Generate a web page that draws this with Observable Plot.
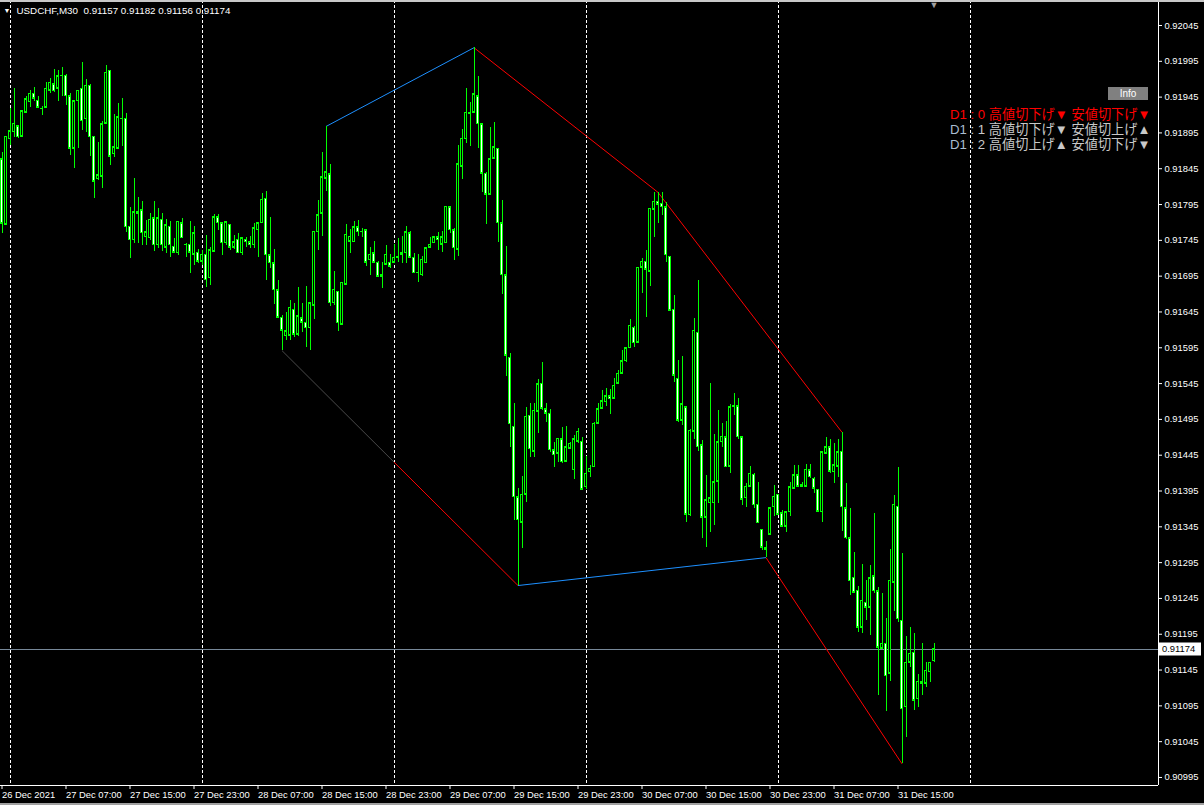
<!DOCTYPE html>
<html><head><meta charset="utf-8">
<script src="https://cdn.jsdelivr.net/npm/d3@7"></script>
<script src="https://cdn.jsdelivr.net/npm/@observablehq/plot@0.6"></script>
<style>
html,body{margin:0;padding:0;background:#000;overflow:hidden}
#chart{position:relative;width:1204px;height:805px}
svg{display:block}
</style></head><body><div id="chart"></div>
<script>
const symbol = "USDCHF,M30";
const open = [0.91858,0.91767,0.91886,0.91896,0.91904,0.91890,0.91923,0.91938,0.91950,0.91940,0.91928,0.91930,0.91954,0.91963,0.91957,0.91975,0.91975,0.91946,0.91873,0.91939,0.91957,0.91914,0.91961,0.91890,0.91830,0.91834,0.91908,0.91982,0.91865,0.91873,0.91914,0.91915,0.91764,0.91745,0.91782,0.91787,0.91749,0.91748,0.91776,0.91738,0.91774,0.91735,0.91764,0.91736,0.91727,0.91769,0.91739,0.91739,0.91725,0.91728,0.91715,0.91725,0.91692,0.91729,0.91777,0.91769,0.91741,0.91767,0.91735,0.91746,0.91727,0.91746,0.91742,0.91738,0.91759,0.91769,0.91803,0.91724,0.91713,0.91675,0.91637,0.91611,0.91612,0.91648,0.91613,0.91636,0.91630,0.91622,0.91654,0.91756,0.91782,0.91831,0.91837,0.91657,0.91673,0.91627,0.91683,0.91743,0.91742,0.91763,0.91756,0.91759,0.91717,0.91727,0.91714,0.91694,0.91711,0.91714,0.91714,0.91721,0.91725,0.91727,0.91755,0.91721,0.91700,0.91696,0.91713,0.91735,0.91741,0.91749,0.91739,0.91741,0.91791,0.91759,0.91732,0.91848,0.91886,0.91923,0.91923,0.91946,0.91907,0.91838,0.91809,0.91859,0.91873,0.91769,0.91696,0.91581,0.91485,0.91386,0.91351,0.91390,0.91500,0.91450,0.91506,0.91545,0.91509,0.91503,0.91452,0.91447,0.91467,0.91436,0.91454,0.91424,0.91464,0.91464,0.91400,0.91421,0.91428,0.91489,0.91510,0.91519,0.91527,0.91524,0.91545,0.91559,0.91576,0.91594,0.91623,0.91602,0.91707,0.91715,0.91701,0.91788,0.91799,0.91796,0.91791,0.91722,0.91648,0.91552,0.91493,0.91512,0.91361,0.91478,0.91616,0.91459,0.91358,0.91378,0.91378,0.91408,0.91463,0.91470,0.91429,0.91512,0.91513,0.91470,0.91385,0.91401,0.91418,0.91376,0.91341,0.91316,0.91334,0.91372,0.91390,0.91364,0.91345,0.91365,0.91398,0.91417,0.91401,0.91401,0.91424,0.91412,0.91397,0.91365,0.91447,0.91456,0.91421,0.91429,0.91450,0.91371,0.91329,0.91274,0.91256,0.91204,0.91239,0.91232,0.91276,0.91255,0.91175,0.91182,0.91140,0.91267,0.91373,0.91214,0.91093,0.91155,0.91169,0.91104,0.91126,0.91126,0.91142,0.91157];
const high = [0.91868,0.91890,0.91929,0.91957,0.91905,0.91925,0.91946,0.91954,0.91958,0.91946,0.91932,0.91965,0.91971,0.91984,0.91982,0.91986,0.91977,0.91950,0.91940,0.91954,0.91993,0.91970,0.91963,0.91890,0.91882,0.91911,0.91989,0.91982,0.91921,0.91936,0.91943,0.91922,0.91791,0.91831,0.91805,0.91799,0.91773,0.91782,0.91799,0.91789,0.91782,0.91774,0.91771,0.91748,0.91771,0.91776,0.91741,0.91771,0.91764,0.91732,0.91731,0.91752,0.91735,0.91781,0.91781,0.91769,0.91770,0.91767,0.91752,0.91755,0.91749,0.91749,0.91750,0.91769,0.91770,0.91810,0.91813,0.91777,0.91732,0.91689,0.91640,0.91644,0.91661,0.91657,0.91679,0.91657,0.91680,0.91657,0.91757,0.91801,0.91868,0.91904,0.91851,0.91701,0.91673,0.91686,0.91767,0.91760,0.91771,0.91773,0.91761,0.91760,0.91735,0.91743,0.91715,0.91714,0.91738,0.91725,0.91739,0.91748,0.91750,0.91764,0.91757,0.91727,0.91725,0.91722,0.91735,0.91749,0.91750,0.91756,0.91757,0.91792,0.91792,0.91761,0.91877,0.91900,0.91957,0.91938,0.92014,0.91974,0.91907,0.91840,0.91903,0.91910,0.91873,0.91801,0.91736,0.91587,0.91517,0.91398,0.91415,0.91512,0.91517,0.91517,0.91551,0.91574,0.91517,0.91509,0.91463,0.91468,0.91484,0.91485,0.91463,0.91473,0.91482,0.91470,0.91443,0.91431,0.91491,0.91517,0.91535,0.91538,0.91537,0.91552,0.91563,0.91591,0.91594,0.91634,0.91625,0.91707,0.91720,0.91731,0.91789,0.91812,0.91812,0.91812,0.91798,0.91722,0.91668,0.91577,0.91583,0.91512,0.91481,0.91636,0.91689,0.91466,0.91417,0.91545,0.91474,0.91507,0.91489,0.91492,0.91516,0.91531,0.91524,0.91470,0.91405,0.91429,0.91419,0.91407,0.91341,0.91325,0.91371,0.91403,0.91390,0.91368,0.91365,0.91407,0.91431,0.91431,0.91407,0.91432,0.91432,0.91414,0.91397,0.91449,0.91470,0.91467,0.91461,0.91467,0.91477,0.91405,0.91371,0.91309,0.91262,0.91292,0.91270,0.91291,0.91364,0.91260,0.91252,0.91217,0.91313,0.91389,0.91428,0.91308,0.91192,0.91204,0.91196,0.91139,0.91182,0.91155,0.91155,0.91182];
const low = [0.91754,0.91766,0.91877,0.91889,0.91887,0.91889,0.91922,0.91930,0.91939,0.91929,0.91919,0.91929,0.91950,0.91952,0.91939,0.91946,0.91933,0.91863,0.91845,0.91873,0.91898,0.91896,0.91862,0.91803,0.91829,0.91817,0.91907,0.91850,0.91861,0.91873,0.91876,0.91756,0.91720,0.91741,0.91741,0.91738,0.91738,0.91745,0.91729,0.91734,0.91729,0.91727,0.91721,0.91727,0.91724,0.91747,0.91721,0.91699,0.91710,0.91713,0.91710,0.91679,0.91682,0.91728,0.91759,0.91724,0.91738,0.91731,0.91732,0.91727,0.91724,0.91735,0.91734,0.91734,0.91721,0.91769,0.91689,0.91706,0.91655,0.91636,0.91591,0.91605,0.91605,0.91609,0.91611,0.91616,0.91595,0.91591,0.91634,0.91731,0.91750,0.91813,0.91653,0.91654,0.91618,0.91627,0.91683,0.91727,0.91742,0.91750,0.91749,0.91708,0.91696,0.91714,0.91694,0.91678,0.91710,0.91706,0.91714,0.91714,0.91713,0.91713,0.91721,0.91699,0.91686,0.91694,0.91713,0.91735,0.91740,0.91731,0.91728,0.91741,0.91755,0.91717,0.91722,0.91830,0.91880,0.91876,0.91923,0.91873,0.91812,0.91767,0.91808,0.91858,0.91742,0.91669,0.91555,0.91456,0.91354,0.91263,0.91315,0.91379,0.91442,0.91442,0.91475,0.91507,0.91491,0.91449,0.91428,0.91435,0.91433,0.91436,0.91453,0.91411,0.91461,0.91397,0.91397,0.91414,0.91428,0.91489,0.91510,0.91513,0.91502,0.91524,0.91545,0.91558,0.91574,0.91594,0.91595,0.91602,0.91671,0.91637,0.91680,0.91749,0.91769,0.91780,0.91714,0.91647,0.91546,0.91491,0.91486,0.91351,0.91359,0.91467,0.91450,0.91329,0.91316,0.91337,0.91347,0.91378,0.91456,0.91428,0.91419,0.91500,0.91467,0.91375,0.91372,0.91401,0.91371,0.91350,0.91312,0.91302,0.91334,0.91359,0.91361,0.91344,0.91337,0.91359,0.91398,0.91400,0.91400,0.91400,0.91412,0.91391,0.91365,0.91351,0.91447,0.91419,0.91405,0.91414,0.91338,0.91327,0.91249,0.91253,0.91197,0.91196,0.91214,0.91193,0.91252,0.91109,0.91175,0.91087,0.91129,0.91227,0.91211,0.91014,0.91051,0.91148,0.91088,0.91093,0.91109,0.91121,0.91128,0.91156];
const close = [0.91768,0.91890,0.91897,0.91908,0.91889,0.91925,0.91942,0.91950,0.91943,0.91930,0.91928,0.91957,0.91965,0.91953,0.91974,0.91975,0.91946,0.91873,0.91939,0.91954,0.91911,0.91961,0.91889,0.91827,0.91836,0.91907,0.91979,0.91862,0.91875,0.91917,0.91914,0.91763,0.91745,0.91784,0.91785,0.91755,0.91756,0.91774,0.91738,0.91776,0.91738,0.91766,0.91738,0.91728,0.91771,0.91748,0.91739,0.91728,0.91755,0.91715,0.91725,0.91689,0.91731,0.91777,0.91769,0.91741,0.91770,0.91735,0.91742,0.91727,0.91748,0.91742,0.91738,0.91762,0.91769,0.91802,0.91724,0.91713,0.91675,0.91637,0.91619,0.91618,0.91651,0.91613,0.91639,0.91630,0.91622,0.91657,0.91757,0.91780,0.91833,0.91840,0.91657,0.91676,0.91629,0.91686,0.91753,0.91750,0.91763,0.91756,0.91756,0.91714,0.91725,0.91714,0.91694,0.91697,0.91725,0.91708,0.91721,0.91722,0.91728,0.91756,0.91721,0.91699,0.91699,0.91718,0.91734,0.91739,0.91749,0.91745,0.91749,0.91792,0.91759,0.91734,0.91851,0.91887,0.91923,0.91922,0.91949,0.91907,0.91838,0.91809,0.91858,0.91875,0.91769,0.91696,0.91584,0.91488,0.91386,0.91354,0.91390,0.91499,0.91453,0.91507,0.91544,0.91510,0.91503,0.91452,0.91445,0.91468,0.91435,0.91456,0.91461,0.91467,0.91478,0.91397,0.91419,0.91426,0.91489,0.91509,0.91520,0.91527,0.91523,0.91542,0.91559,0.91576,0.91594,0.91626,0.91601,0.91707,0.91715,0.91704,0.91789,0.91799,0.91795,0.91791,0.91724,0.91647,0.91556,0.91493,0.91516,0.91362,0.91479,0.91619,0.91456,0.91358,0.91382,0.91385,0.91407,0.91463,0.91471,0.91428,0.91512,0.91514,0.91470,0.91383,0.91401,0.91419,0.91375,0.91350,0.91316,0.91313,0.91371,0.91387,0.91362,0.91345,0.91365,0.91400,0.91417,0.91401,0.91403,0.91425,0.91414,0.91398,0.91366,0.91449,0.91456,0.91422,0.91431,0.91449,0.91372,0.91329,0.91269,0.91253,0.91204,0.91242,0.91232,0.91273,0.91255,0.91176,0.91182,0.91136,0.91270,0.91376,0.91216,0.91090,0.91155,0.91168,0.91102,0.91129,0.91129,0.91144,0.91155,0.91174];

const timeTickBars = [0,16,32,48,64,80,96,112,128,144,160,176,192,208,224];
const timeTickLabels = ["26 Dec 2021","27 Dec 07:00","27 Dec 15:00","27 Dec 23:00","28 Dec 07:00","28 Dec 15:00","28 Dec 23:00","29 Dec 07:00","29 Dec 15:00","29 Dec 23:00","30 Dec 07:00","30 Dec 15:00","30 Dec 23:00","31 Dec 07:00","31 Dec 15:00"];
const dayStartBars = [2,50,98,146,194,242];
const priceTicks = [0.90995,0.91045,0.91095,0.91145,0.91195,0.91245,0.91295,0.91345,0.91395,0.91445,0.91495,0.91545,0.91595,0.91645,0.91695,0.91745,0.91795,0.91845,0.91895,0.91945,0.91995,0.92045];
const zigUpperBars = [81,118,164,210];   // swing highs
const zigLowerBars = [70,129,191,225];   // swing lows
const infoLabels = ["D1", "D1", "D1"];
const infoTexts = [" : 0 高値切下げ▼ 安値切下げ▼"," : 1 高値切下げ▼ 安値切上げ▲"," : 2 高値切上げ▲ 安値切下げ▼"];

// ---- layout ----
const W = 1204, H = 805, plotRight = 1158, plotBottom = 785, barPx = 4;
const xDomain = [-0.375, plotRight / barPx - 0.375];
const yDomain = [0.909838, 0.920799];

const n = close.length;
const candles = open.map((o, i) => ({i, o, h: high[i], l: low[i], c: close[i]}));
const labelMap = new Map(timeTickBars.map((b, k) => [b, timeTickLabels[k]]));
const segs = [];
for (let k = 0; k < zigUpperBars.length - 1; k++) {
  const a = zigUpperBars[k], b = zigUpperBars[k + 1];
  segs.push({x1: a, y1: high[a], x2: b, y2: high[b]});
}
for (let k = 0; k < zigLowerBars.length - 1; k++) {
  const a = zigLowerBars[k], b = zigLowerBars[k + 1];
  segs.push({x1: a, y1: low[a], x2: b, y2: low[b]});
}
// a falling segment that starts on the previous day is drawn dim until the next day starts
const segDim = [], segRed = [], segBlue = [];
for (const s of segs) {
  if (s.y2 > s.y1) { segBlue.push(s); continue; }
  const cut = dayStartBars.find(b => b > s.x1 + 8 && b < s.x2 - 8 && s.x1 < 75);
  if (cut !== undefined) {
    const yc = s.y1 + (s.y2 - s.y1) * (cut - s.x1) / (s.x2 - s.x1);
    segDim.push({x1: s.x1, y1: s.y1, x2: cut, y2: yc});
    segRed.push({x1: cut, y1: yc, x2: s.x2, y2: s.y2});
  } else segRed.push(s);
}
const fmt = v => v.toFixed(5);
const header = `${symbol}  ${fmt(open[n-1])} ${fmt(high[n-1])} ${fmt(low[n-1])} ${fmt(close[n-1])}`;
const lime = "#00ff00";
const axisFont = "'Liberation Sans', Arial, sans-serif";
const L = {x1: "x1", y1: "y1", x2: "x2", y2: "y2", strokeWidth: 1};

const chart = Plot.plot({
  width: W, height: H,
  marginLeft: 0, marginTop: 0, marginRight: W - plotRight, marginBottom: H - plotBottom,
  style: {background: "#000", color: "#fff", fontFamily: axisFont, fontSize: "9.4px"},
  x: {type: "linear", domain: xDomain, axis: null},
  y: {type: "linear", domain: yDomain, axis: null},
  marks: [
    Plot.ruleX(dayStartBars, {stroke: "#fff", strokeDasharray: "3,2", shapeRendering: "crispEdges"}),
    Plot.ruleY([close[n - 1]], {stroke: "#778899", shapeRendering: "crispEdges"}),
    Plot.link(segDim, {...L, stroke: "#4a4a4a"}),
    Plot.link(segRed, {...L, stroke: "#ff0000"}),
    Plot.link(segBlue, {...L, stroke: "#1e90ff"}),
    Plot.ruleX(candles, {x: "i", y1: "l", y2: "h", stroke: lime, shapeRendering: "crispEdges"}),
    Plot.rect(candles, {x1: d => d.i - 0.375, x2: d => d.i + 0.375, y1: d => Math.min(d.o, d.c), y2: d => Math.max(d.o, d.c), fill: lime, insetTop: -0.5, insetBottom: -0.5, shapeRendering: "crispEdges"}),
    Plot.rect(candles.filter(d => Math.abs(d.o - d.c) > 0.000025), {x1: d => d.i - 0.125, x2: d => d.i + 0.125, y1: d => Math.min(d.o, d.c), y2: d => Math.max(d.o, d.c), fill: d => d.c < d.o ? "#ffffff" : "#000000", insetTop: 1, insetBottom: 1, shapeRendering: "crispEdges"}),
    Plot.ruleX([xDomain[1]], {stroke: "#fff", shapeRendering: "crispEdges"}),
    Plot.ruleY([yDomain[0]], {stroke: "#fff", shapeRendering: "crispEdges"}),
    Plot.axisY(priceTicks, {anchor: "right", tickSize: 3, tickPadding: 3, tickFormat: fmt, stroke: "#fff", fill: "#fff"}),
    Plot.axisX(timeTickBars, {anchor: "bottom", tickSize: 4, tickPadding: 2, tickFormat: d => labelMap.get(d), textAnchor: "start", dx: 0, stroke: "#fff", fill: "#fff"}),
    Plot.text([header], {frameAnchor: "top-left", dx: 16, dy: 7, lineAnchor: "top", textAnchor: "start", fill: "#fff", fontSize: 9.8}),
    Plot.text(["▼"], {frameAnchor: "top-left", dx: 3, dy: 8, lineAnchor: "top", textAnchor: "start", fill: "#fff", fontSize: 7}),
    Plot.text([n - 1], {x: d => d, frameAnchor: "top", dy: 1, lineAnchor: "top", text: () => "▼", fill: "#a0a0a0", fontSize: 9})
  ]
});
document.getElementById("chart").appendChild(chart);

const svg = d3.select(chart);
const yS = chart.scale("y");
// window frame strips
svg.append("rect").attr("x", 0).attr("y", 0).attr("width", W).attr("height", 2).attr("fill", "#c8c8c8");
svg.append("rect").attr("x", 0).attr("y", H - 2).attr("width", W).attr("height", 2).attr("fill", "#a0a0a0");
// current price box
const py = Math.round(yS.apply(close[n - 1]));
svg.append("rect").attr("x", plotRight + 1).attr("y", py - 6.5).attr("width", 42).attr("height", 13).attr("fill", "#fff");
svg.append("text").attr("x", plotRight + 4).attr("y", py).attr("dy", "0.35em").attr("fill", "#000")
  .attr("text-anchor", "start").attr("font-family", axisFont).attr("font-size", "9.4px").text(fmt(close[n - 1]));
// info panel
const g = svg.append("g").attr("font-family", "'Liberation Sans', 'Noto Sans CJK JP', sans-serif").attr("font-size", "13.2px").attr("text-anchor", "start");
g.append("rect").attr("x", 1108).attr("y", 87).attr("width", 40).attr("height", 13).attr("fill", "#808080");
g.append("text").attr("x", 1128).attr("y", 93.5).attr("dy", "0.36em").attr("text-anchor", "middle").attr("fill", "#fff")
  .attr("font-family", axisFont).attr("font-size", "10px").text("Info");
infoTexts.forEach((t, k) => {
  const tx = g.append("text").attr("x", 950).attr("y", 114 + 15 * k).attr("dy", "0.36em").attr("text-anchor", "start");
  tx.append("tspan").attr("fill", k === 0 ? "#ff0000" : "#a9bcd0").text(infoLabels[k]);
  tx.append("tspan").attr("fill", k === 0 ? "#ff0000" : "#c8c8c8").text(t);
});
</script></body></html>
